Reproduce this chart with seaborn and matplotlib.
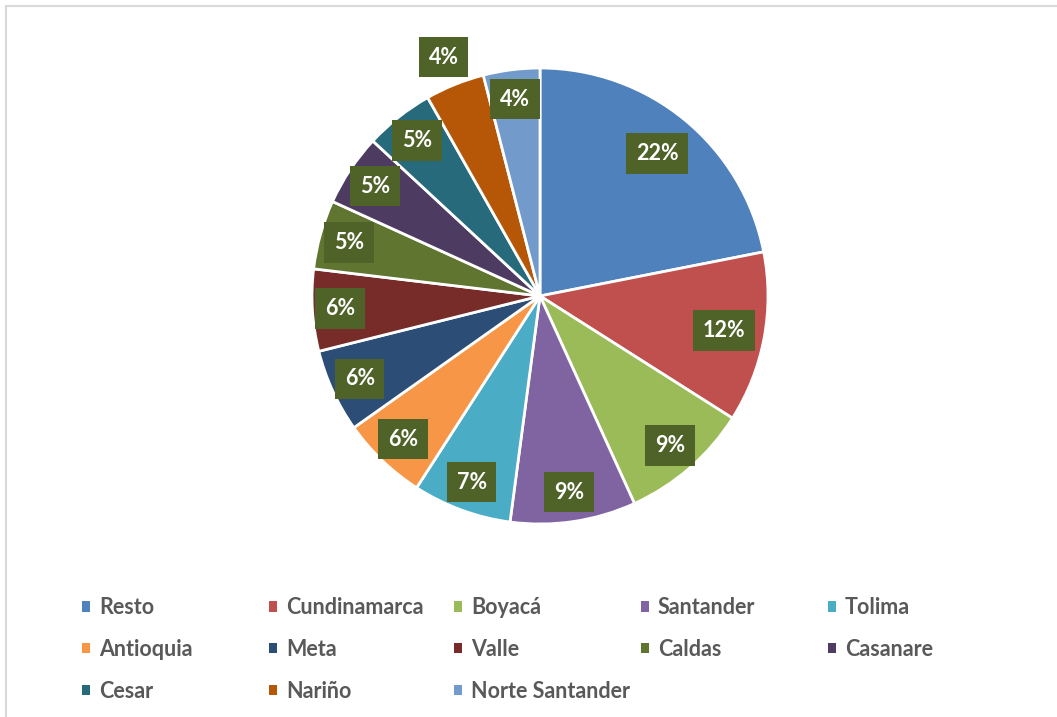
import matplotlib
matplotlib.use("Agg")
import matplotlib.pyplot as plt
from matplotlib.patches import Patch
from matplotlib.lines import Line2D
import numpy as np
import seaborn as sns

# participación por departamento (en %)
departamentos = ["Resto", "Cundinamarca", "Boyacá", "Santander", "Tolima",
                 "Antioquia", "Meta", "Valle", "Caldas", "Casanare",
                 "Cesar", "Nariño", "Norte Santander"]
participacion = [21.9, 12.1, 9.2, 8.9, 7.0, 6.1, 5.9, 5.8, 4.9, 5.1, 4.9, 4.2, 4.0]
etiquetas = ["22%", "12%", "9%", "9%", "7%", "6%", "6%", "6%", "5%", "5%", "5%", "4%", "4%"]

colores = sns.color_palette(["#4F81BD", "#C0504D", "#9BBB59", "#8064A2", "#4BACC6",
                             "#F79646", "#2C4D75", "#772C2A", "#5F7530", "#4D3B62",
                             "#276A7C", "#B65708", "#729ACA"])

sns.set_style("white")
plt.rcParams["font.family"] = ["Lato", "DejaVu Sans"]

W, H = 1057, 717
fig = plt.figure(figsize=(W / 100, H / 100), dpi=100)

# eje del pastel en pixeles
R, cx, cy, lim = 228, 540, 296, 1.25
lado = 2 * lim * R
ax = fig.add_axes([(cx - lado / 2) / W, (H - cy - lado / 2) / H, lado / W, lado / H])
wedges, _ = ax.pie(participacion, colors=colores, startangle=90, counterclock=False,
                   radius=1, wedgeprops=dict(edgecolor="white", linewidth=2))
ax.set_xlim(-lim, lim)
ax.set_ylim(-lim, lim)
ax.set_aspect("equal")
ax.axis("off")

# etiquetas de porcentaje (Nariño va por fuera)
radios = [0.81, 0.82, 0.87, 0.87, 0.87, 0.87, 0.87, 0.88, 0.87, 0.87, 0.87, 1.13, 0.87]
for w, txt, r in zip(wedges, etiquetas, radios):
    ang = np.deg2rad((w.theta1 + w.theta2) / 2)
    ax.text(r * np.cos(ang), r * np.sin(ang), txt, ha="center", va="center",
            color="white", fontsize=15.5, fontweight="bold",
            bbox=dict(boxstyle="square,pad=0.45", fc="#4F6228", ec="none"))

# marco gris
fig.add_artist(Line2D([6 / W, 1], [1 - 6 / H, 1 - 6 / H], transform=fig.transFigure,
                      color="#D9D9D9", lw=1.5))
fig.add_artist(Line2D([6 / W, 6 / W], [0, 1 - 6 / H], transform=fig.transFigure,
                      color="#D9D9D9", lw=1.5))

# leyenda en 5 columnas de igual ancho
col_x = [82, 269, 454, 641, 828]
fila_top = 597
for c, x in enumerate(col_x):
    idx = list(range(c, len(departamentos), 5))
    handles = [Patch(facecolor=colores[i], edgecolor="none") for i in idx]
    labels = [departamentos[i] for i in idx]
    fig.legend(handles, labels, loc="upper left", bbox_to_anchor=(x / W, 1 - fila_top / H),
               frameon=False, prop=dict(family=["Lato", "DejaVu Sans"], weight="bold", size=15.5),
               labelcolor="#595959", handlelength=0.38, handleheight=0.38,
               handletextpad=0.4, labelspacing=0.97, borderpad=0, borderaxespad=0)

fig.savefig("out.png", dpi=100, facecolor="white")
